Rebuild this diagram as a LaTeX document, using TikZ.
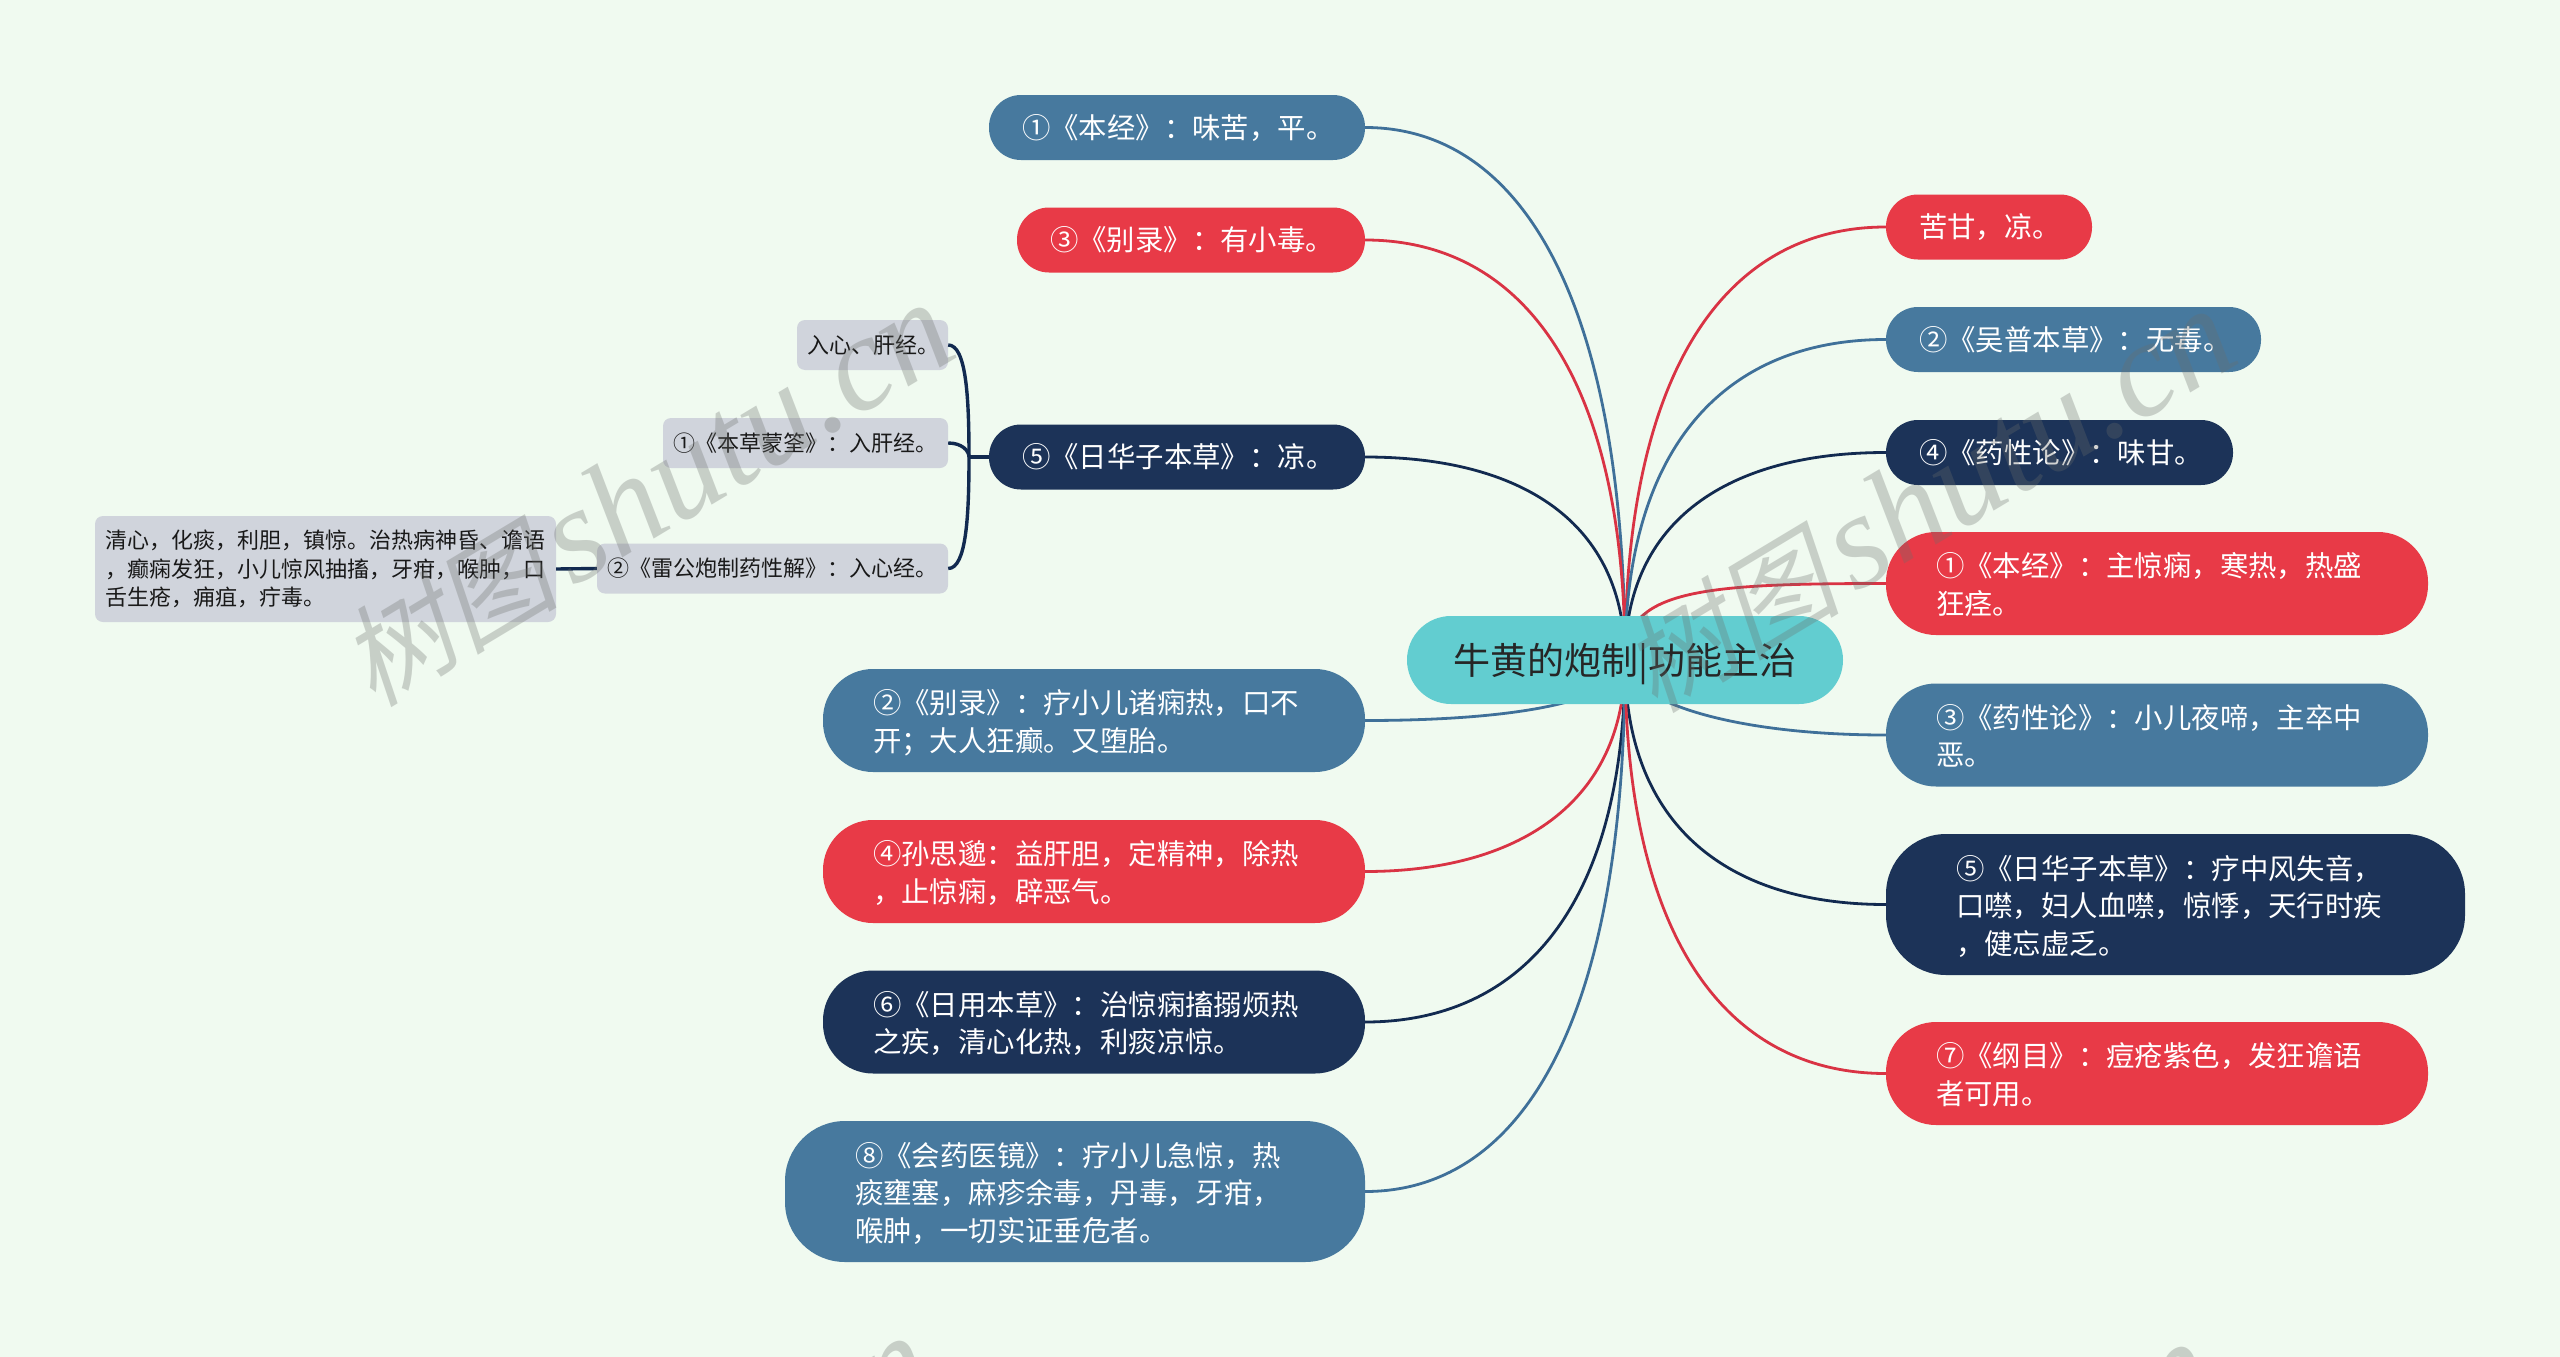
\documentclass[tikz,border=0pt]{standalone}
\usepackage{fontspec}
\usepackage{tikz}
\usetikzlibrary{backgrounds}
\newfontfamily\cjk{Noto Sans CJK SC}
\newfontfamily\cjkslant[FakeSlant=0.22]{Noto Sans CJK SC}
\newfontfamily\markfont{Liberation Serif}
\newcommand{\marktext}{{\cjkslant\fontsize{110}{110}\selectfont 树图}\hspace{14pt}{\markfont\itshape shutu.cn}}
\definecolor{pagebg}{HTML}{F0FAF0}
\definecolor{bluefill}{HTML}{47799E}
\definecolor{redfill}{HTML}{E83A47}
\definecolor{navyfill}{HTML}{1C3358}
\definecolor{tealfill}{HTML}{62CDD0}
\definecolor{grayfill}{HTML}{D0D4DC}
\definecolor{blueedge}{HTML}{3F7099}
\definecolor{rededge}{HTML}{D93344}
\definecolor{navyedge}{HTML}{122A50}
\definecolor{markgray}{HTML}{6B6E6B}
\tikzstyle{topic} = [rectangle, rounded corners=44pt, minimum width=436pt, minimum height=88pt, inner sep=0pt, align=center, fill=tealfill, text=black!85, text depth=2pt, font=\cjk\fontsize{37}{44}\selectfont]
\tikzstyle{pill} = [rectangle, rounded corners=32pt, minimum height=65pt, inner ysep=0pt, inner xsep=33pt, align=left, text=white, text depth=3pt, font=\cjk\fontsize{28.4}{37.5}\selectfont]
\tikzstyle{bluebox} = [pill, fill=bluefill]
\tikzstyle{redbox} = [pill, fill=redfill]
\tikzstyle{navybox} = [pill, fill=navyfill]
\tikzstyle{twoline} = [minimum height=103pt, inner xsep=50pt, rounded corners=50pt, text depth=37.5pt]
\tikzstyle{threeline} = [minimum height=141pt, inner xsep=70pt, rounded corners=60pt, text depth=75pt]
\tikzstyle{note} = [rectangle, rounded corners=8pt, minimum height=50pt, inner ysep=0pt, inner xsep=10pt, align=left, fill=grayfill, text=black!90, font=\cjk\fontsize{22}{28.5}\selectfont]
\tikzstyle{blueline} = [line width=2.8pt, draw=blueedge]
\tikzstyle{redline} = [line width=2.8pt, draw=rededge]
\tikzstyle{navyline} = [line width=2.8pt, draw=navyedge]
\tikzstyle{noteline} = [line width=3.4pt, draw=navyedge]
\tikzstyle{watermark} = [rotate=31, text=markgray, opacity=0.3, inner sep=0pt, font=\fontsize{135}{135}\selectfont]

\begin{document}
\begin{tikzpicture}[x=1pt,y=-1pt]
	\useasboundingbox (0,0) rectangle (2560,1357);
	\node(main_topic) [topic] at (1625,660) {牛黄的炮制|功能主治};

	\node(benjing_taste) [bluebox, text width=310pt] at (1177,127.5) {①《本经》：味苦，平。};
	\node(bielu_poison) [redbox, text width=282pt] at (1191,240) {③《别录》：有小毒。};
	\node(rihuazi_cool) [navybox, text width=310pt] at (1177,457) {⑤《日华子本草》：凉。};
	\node(bielu_use) [bluebox, twoline, text width=442pt] at (1094,720.5) {②《别录》：疗小儿诸痫热，口不\\开；大人狂癫。又堕胎。};
	\node(sun_simiao) [redbox, twoline, text width=442pt] at (1094,871.5) {④孙思邈：益肝胆，定精神，除热\\，止惊痫，辟恶气。};
	\node(riyong_use) [navybox, twoline, text width=442pt] at (1094,1022) {⑥《日用本草》：治惊痫搐搦烦热\\之疾，清心化热，利痰凉惊。};
	\node(huiyao_use) [bluebox, threeline, text width=440pt] at (1075,1191.5) {⑧《会药医镜》：疗小儿急惊，热\\痰壅塞，麻疹余毒，丹毒，牙疳，\\喉肿，一切实证垂危者。};

	\node(bitter_sweet) [redbox, text width=140pt] at (1989,227) {苦甘，凉。};
	\node(wupu_poison) [bluebox, text width=309pt] at (2073.5,339.5) {②《吴普本草》：无毒。};
	\node(yaoxing_taste) [navybox, text width=281pt] at (2059.5,452.5) {④《药性论》：味甘。};
	\node(benjing_use) [redbox, twoline, text width=442pt] at (2157,583.5) {①《本经》：主惊痫，寒热，热盛\\狂痉。};
	\node(yaoxing_use) [bluebox, twoline, text width=442pt] at (2157,735) {③《药性论》：小儿夜啼，主卒中\\恶。};
	\node(rihuazi_use) [navybox, threeline, text width=439pt] at (2175.5,904.5) {⑤《日华子本草》：疗中风失音，\\口噤，妇人血噤，惊悸，天行时疾\\，健忘虚乏。};
	\node(gangmu_use) [redbox, twoline, text width=442pt] at (2157,1073.5) {⑦《纲目》：痘疮紫色，发狂谵语\\者可用。};

	\node(heart_liver) [note, text width=131pt] at (872.5,345) {入心、肝经。};
	\node(mengquan_liver) [note, text width=265pt] at (805.5,443) {①《本草蒙筌》：入肝经。};
	\node(leigong_heart) [note, text width=331pt] at (772.5,568.5) {②《雷公炮制药性解》：入心经。};
	\node(leigong_use) [note, minimum height=106pt, text width=441pt] at (325.5,569) {清心，化痰，利胆，镇惊。治热病神昏、谵语\\，癫痫发狂，小儿惊风抽搐，牙疳，喉肿，口\\舌生疮，痈疽，疔毒。};
	\coordinate(note_fork) at (969,457);

	\begin{scope}[on background layer]
		\fill[pagebg] (0,0) rectangle (2560,1357);
		\draw[blueline] (benjing_taste.east) .. controls +(156,0) and +(0,-360) .. (main_topic.center);
		\draw[redline] (bielu_poison.east) .. controls +(156,0) and +(0,-285) .. (main_topic.center);
		\draw[navyline] (rihuazi_cool.east) .. controls +(156,0) and +(0,-138) .. (main_topic.center);
		\draw[blueline] (bielu_use.east) .. controls +(156,0) and +(0,40) .. (main_topic.center);
		\draw[redline] (sun_simiao.east) .. controls +(150,0) and +(0,145) .. (main_topic.center);
		\draw[navyline] (riyong_use.east) .. controls +(156,0) and +(0,246) .. (main_topic.center);
		\draw[blueline] (huiyao_use.east) .. controls +(156,0) and +(0,362) .. (main_topic.center);
		\draw[redline] (bitter_sweet.west) .. controls +(-157,0) and +(0,-295) .. (main_topic.center);
		\draw[blueline] (wupu_poison.west) .. controls +(-157,0) and +(0,-218) .. (main_topic.center);
		\draw[navyline] (yaoxing_taste.west) .. controls +(-157,0) and +(0,-140) .. (main_topic.center);
		\draw[redline] (benjing_use.west) .. controls +(-186,0) and +(0,-70) .. (main_topic.center);
		\draw[blueline] (yaoxing_use.west) .. controls +(-157,0) and +(0,40) .. (main_topic.center);
		\draw[navyline] (rihuazi_use.west) .. controls +(-157,0) and +(0,167) .. (main_topic.center);
		\draw[redline] (gangmu_use.west) .. controls +(-157,0) and +(0,282) .. (main_topic.center);
	\end{scope}

	\draw[noteline] (rihuazi_cool.west) -- (note_fork);
	\draw[noteline] (note_fork) .. controls +(0,-60) and +(18,0) .. (heart_liver.east);
	\draw[noteline] (note_fork) .. controls +(0,-6) and +(14,0) .. (mengquan_liver.east);
	\draw[noteline] (note_fork) .. controls +(0,60) and +(18,0) .. (leigong_heart.east);
	\draw[noteline] (leigong_heart.west) -- (leigong_use.east);

	\node(mark_left) [watermark] at (646,495) {\marktext};
	\node(mark_right) [watermark] at (1928,501) {\marktext};
	\node(mark_bottom_left) [watermark] at (626,1528) {\marktext};
	\node(mark_bottom_right) [watermark] at (1908,1534) {\marktext};
\end{tikzpicture}
\end{document}
